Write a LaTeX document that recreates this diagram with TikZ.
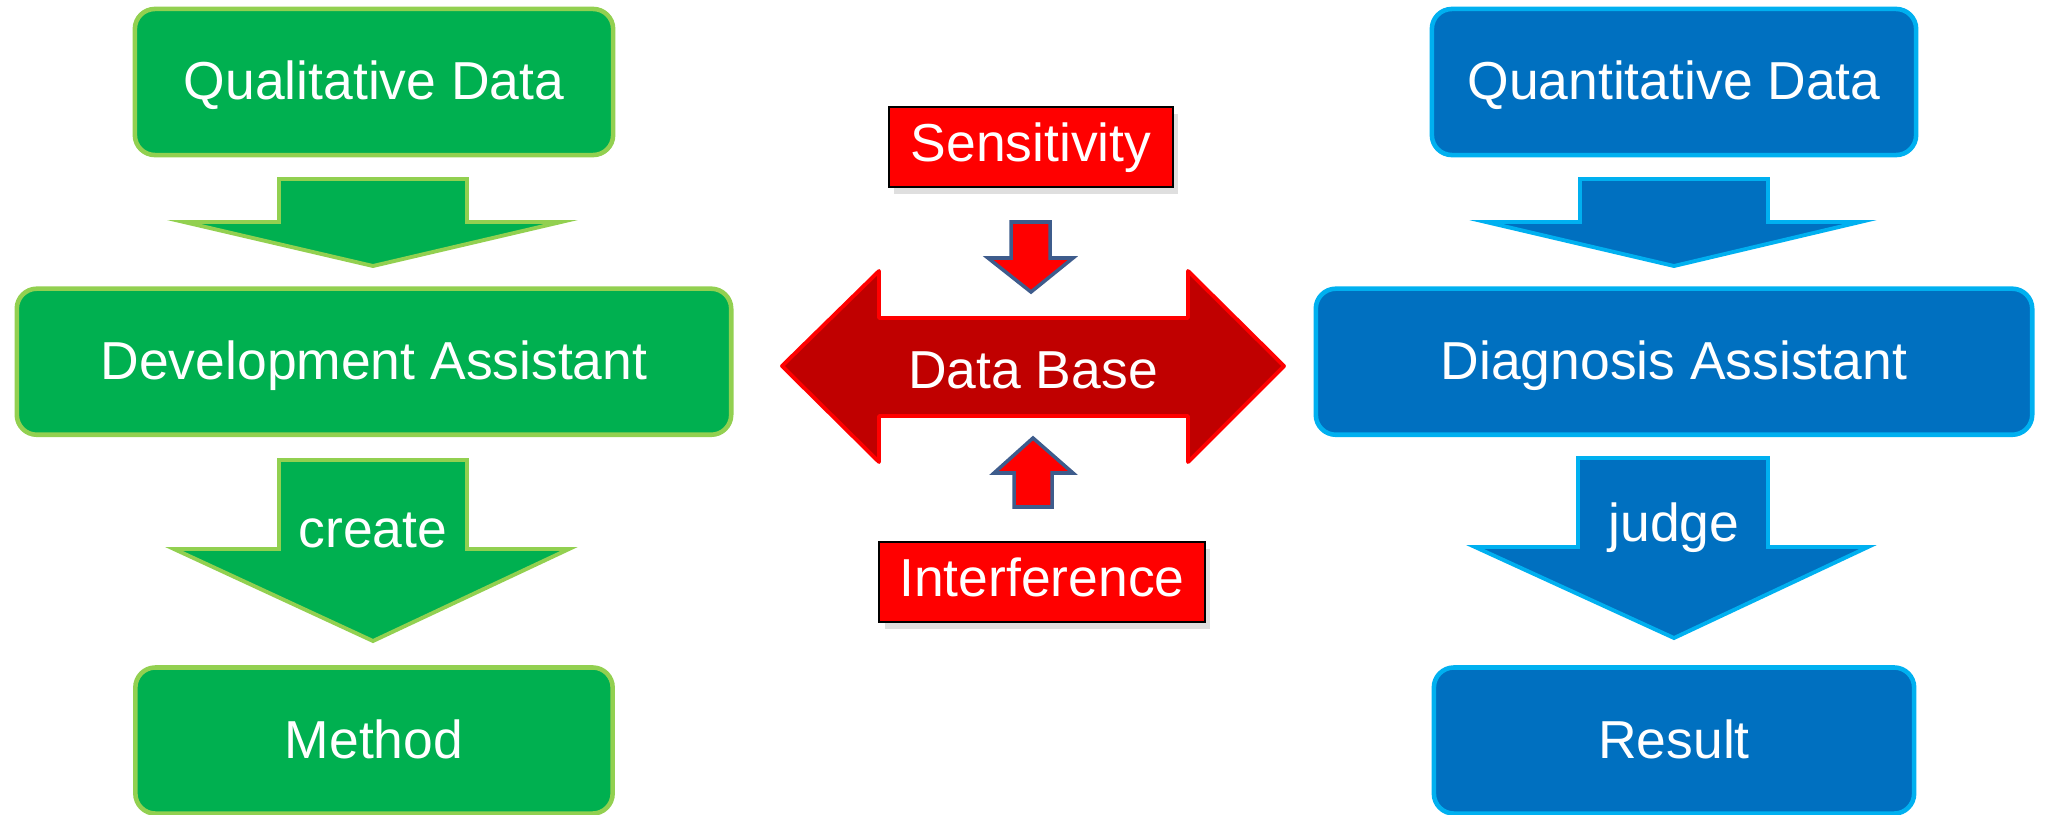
\documentclass[tikz,border=0pt]{standalone}
\usepackage{fontspec}
\setmainfont{Liberation Sans}
\usepackage{tikz}
\usetikzlibrary{positioning}
\usetikzlibrary{shadows}
\definecolor{grfill}{HTML}{00B050}
\definecolor{grline}{HTML}{92D050}
\definecolor{blfill}{HTML}{0070C0}
\definecolor{blline}{HTML}{00B0F0}
\definecolor{dbfill}{HTML}{C00000}
\definecolor{smline}{RGB}{62,92,140}
\newcommand{\boxfont}{\fontsize{15.2}{18}\selectfont}
\tikzset{%
  greenbox/.style={rectangle, rounded corners=0.2cm, fill=grfill, draw=grline, line width=1.3pt,
    minimum height=1.46cm, text=white, font=\boxfont, text height=1.1em, text depth=0.1em},
  bluebox/.style={greenbox, fill=blfill, draw=blline},
  redbox/.style={rectangle, fill=red, draw=black, line width=0.6pt, minimum height=0.8cm,
    text=white, font=\boxfont, text height=0.9em, text depth=0.1em,
    drop shadow={opacity=0.25, shadow xshift=1.5pt, shadow yshift=-2pt}},
  greenarrow/.style={fill=grfill, draw=grline, line width=1.1pt},
  bluearrow/.style={fill=blfill, draw=blline, line width=1.1pt},
  dbarrow/.style={fill=dbfill, draw=red, line width=1.1pt, line join=round},
  smallarrow/.style={fill=red, draw=smline, line width=1pt},
  arrowlabel/.style={text=white, font=\boxfont}
}

\begin{document}
\begin{tikzpicture}[x=0.01cm, y=-0.01cm]
  \useasboundingbox (0,0) rectangle (2051,815);
  % left column
  \node[greenbox, minimum width=4.78cm] (qual) at (374,82) {Qualitative Data};
  \node[greenbox, minimum width=7.14cm, below=1.29cm of qual] (dev) {Development Assistant};
  \node[greenbox, minimum width=4.77cm, below=2.28cm of dev] (method) {Method};
  \draw[greenarrow] (279,179) -- (467,179) -- (467,222) -- (561,222) -- (373,266)
    -- (184,222) -- (279,222) -- cycle;
  \draw[greenarrow] (279,460) -- (467,460) -- (467,549) -- (569,549) -- (373,641)
    -- (174,549) -- (279,549) -- cycle;
  \node[arrowlabel] (create) at (373,530) {create};
  % middle
  \node[redbox, minimum width=2.84cm] (sens) at (1031,147) {Sensitivity};
  \node[redbox, minimum width=3.25cm] (interf) at (1042,582) {Interference};
  \draw[dbarrow] (782,366) -- (879,271) -- (879,318) -- (1188,318) -- (1188,271)
    -- (1284,366) -- (1188,462) -- (1188,416) -- (879,416) -- (879,462) -- cycle;
  \node[arrowlabel] (db) at (1033,370) {Data Base};
  \draw[smallarrow] (1011,222) -- (1050,222) -- (1050,258) -- (1073,258) -- (1031,292)
    -- (988,258) -- (1011,258) -- cycle;
  \draw[smallarrow] (1014,507) -- (1052,507) -- (1052,473) -- (1073,473) -- (1033,438)
    -- (994,473) -- (1014,473) -- cycle;
  % right column
  \node[bluebox, minimum width=4.84cm] (quant) at (1674,82) {Quantitative Data};
  \node[bluebox, minimum width=7.16cm, below=1.29cm of quant] (diag) {Diagnosis Assistant};
  \node[bluebox, minimum width=4.8cm, below=2.28cm of diag] (result) {Result};
  \draw[bluearrow] (1580,179) -- (1768,179) -- (1768,222) -- (1860,222) -- (1674,266)
    -- (1486,222) -- (1580,222) -- cycle;
  \draw[bluearrow] (1578,458) -- (1768,458) -- (1768,547) -- (1868,547) -- (1674,638)
    -- (1475,547) -- (1578,547) -- cycle;
  \node[arrowlabel] (judge) at (1674,528) {judge};
\end{tikzpicture}
\end{document}
